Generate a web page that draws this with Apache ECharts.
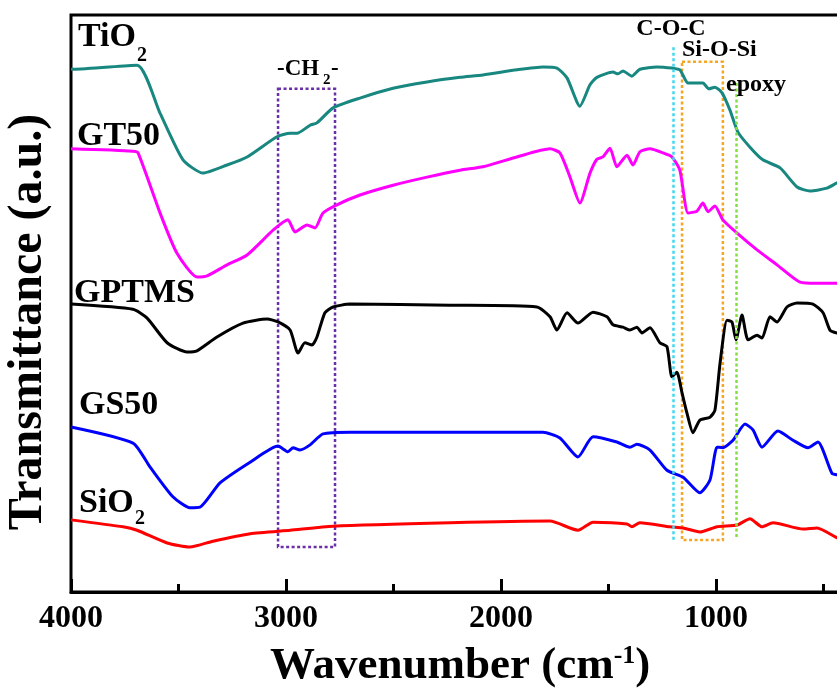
<!DOCTYPE html>
<html>
<head>
<meta charset="utf-8">
<title>FTIR spectra</title>
<script src="https://cdn.jsdelivr.net/npm/echarts@6/dist/echarts.min.js"></script>
<style>
  html, body { margin: 0; background: #fff; }
  #chart { width: 837px; height: 688px; }
</style>
</head>
<body>
<div id="chart"></div>
<script>
// wavenumbers (cm-1) and transmittance (a.u.)
const tio2Wn = [4000, 3991, 3693, 3586, 3479, 3386, 3274, 3181, 3042, 2981, 2949, 2888, 2856, 2781, 2656, 2502, 2344, 2191, 2084, 1926,
  1805, 1740, 1693, 1633, 1586, 1554, 1479, 1456, 1433, 1391, 1354, 1275, 1205, 1168, 1130, 1089, 1061, 1033, 1005, 972,
  935, 898, 842, 782, 702, 623, 563, 484, 437, 400];
const tio2T = [90.6, 90.6, 91.3, 83.0, 74.9, 72.6, 74.0, 75.4, 78.9, 79.5, 79.5, 80.9, 81.3, 83.9, 85.6, 87.3, 88.4, 89.2, 89.6, 90.5,
  91.0, 90.8, 89.1, 84.2, 87.9, 89.2, 90.1, 89.8, 90.3, 89.4, 90.6, 91.0, 90.8, 90.5, 88.2, 88.2, 88.2, 87.2, 87.5, 86.5,
  83.5, 79.7, 77.1, 74.9, 73.5, 70.2, 69.5, 70.0, 70.9, 71.5];

const gt50Wn = [4000, 3712, 3688, 3586, 3507, 3414, 3367, 3274, 3181, 3060, 2991, 2958, 2902, 2865, 2828, 2763, 2656, 2502, 2344, 2191,
  2084, 1926, 1772, 1726, 1679, 1633, 1586, 1554, 1526, 1493, 1461, 1414, 1386, 1354, 1307, 1247, 1205, 1168, 1130, 1089,
  1061, 1037, 1005, 968, 902, 809, 716, 609, 530, 437, 400];
const gt50T = [76.8, 76.4, 76.1, 65.7, 58.7, 54.6, 54.8, 56.7, 58.4, 62.7, 64.5, 62.4, 63.6, 63.1, 65.7, 67.1, 68.8, 70.5, 71.9, 73.1,
  73.7, 75.4, 76.8, 76.1, 71.9, 67.4, 72.6, 75.0, 75.4, 76.9, 73.7, 75.7, 74.0, 76.3, 76.8, 76.1, 75.4, 73.1, 65.7, 66.0,
  67.4, 65.9, 66.9, 64.5, 62.2, 59.3, 56.7, 53.7, 53.5, 53.5, 53.5];

const gptmsWn = [4000, 3712, 3647, 3553, 3460, 3414, 3321, 3200, 3088, 3037, 2981, 2944, 2912, 2879, 2856, 2819, 2781, 2702, 2237, 1833,
  1772, 1740, 1693, 1642, 1572, 1507, 1479, 1433, 1400, 1368, 1344, 1307, 1261, 1228, 1205, 1182, 1158, 1135, 1107, 1075,
  1028, 1005, 981, 949, 926, 907, 879, 851, 809, 786, 749, 716, 670, 623, 549, 502, 470, 437, 400];
const gptmsT = [49.9, 49.0, 47.5, 43.2, 41.6, 41.8, 44.2, 46.6, 47.3, 46.8, 45.4, 41.4, 43.2, 42.8, 44.2, 48.4, 49.4, 49.9, 49.7, 49.4,
  47.7, 45.4, 48.4, 46.6, 48.5, 47.7, 46.3, 45.9, 45.4, 45.9, 44.9, 45.8, 43.2, 42.5, 37.3, 38.1, 34.5, 31.0, 27.6, 29.8,
  30.3, 31.5, 39.7, 47.1, 46.8, 43.7, 48.0, 43.7, 44.5, 44.0, 47.7, 46.8, 49.4, 50.1, 49.9, 48.4, 45.4, 44.9, 44.8];

const gs50Wn = [4000, 3712, 3633, 3526, 3447, 3400, 3307, 3167, 3037, 2991, 2967, 2935, 2888, 2828, 2702, 2237, 1805, 1726, 1642, 1572,
  1461, 1400, 1368, 1307, 1228, 1153, 1075, 1028, 995, 968, 921, 865, 828, 786, 712, 642, 572, 526, 461, 437, 400];
const gs50T = [28.6, 25.8, 21.7, 16.5, 14.6, 14.7, 18.9, 22.5, 25.3, 24.3, 25.0, 24.6, 25.5, 27.4, 27.7, 27.7, 27.7, 26.7, 23.4, 26.9,
  26.0, 25.1, 25.6, 24.6, 21.1, 19.9, 17.2, 19.4, 25.1, 25.0, 26.3, 29.1, 28.1, 25.1, 27.9, 26.3, 25.0, 26.0, 20.6, 20.3, 20.1];

const sio2Wn = [4000, 3758, 3693, 3553, 3447, 3340, 3167, 2981, 2781, 2237, 1772, 1642, 1572, 1414, 1391, 1354, 1214, 1153, 1075, 995,
  902, 842, 786, 735, 595, 530, 437, 400];
const sio2T = [12.5, 11.3, 10.7, 8.5, 7.8, 8.8, 10.1, 10.7, 11.4, 12.0, 12.3, 10.7, 12.1, 11.8, 11.3, 12.0, 11.3, 11.1, 10.4, 11.3,
  11.6, 12.7, 11.3, 12.0, 10.9, 11.1, 9.4, 9.0];

// band markers: [wn from, wn to, T top, T bottom] / [wn, T top, T bottom]
const ch2Box = [3037, 2772, 87.2, 7.8];
const siosiBox = [1158, 968, 91.9, 9.0];
const cocLine = [1200, 94.4, 9.0];
const epoxyLine = [907, 88.2, 9.4];

const xTicks = [0, 4000, 1000]; // min, max, step

const FONT = '"Liberation Serif", "Times New Roman", serif';

function zip(xs, ys) {
    return xs.map((x, i) => [x, ys[i]]);
}

function spectrum(name, wn, t, color) {
    return {
        name: name,
        type: 'line',
        data: zip(wn, t),
        showSymbol: false,
        smooth: 0.2,
        lineStyle: { width: 3, color: color },
        itemStyle: { color: color },
        z: 3
    };
}

function txt(text, x, y, size, align) {
    return {
        type: 'text', x: x, y: y, z: 10,
        style: {
            text: text, fill: '#000',
            font: 'bold ' + size + 'px ' + FONT,
            align: align || 'left', verticalAlign: 'middle'
        }
    };
}

const dots = [3, 2.5];

const chart = echarts.init(document.getElementById('chart'));

const series = [
    spectrum('TiO2', tio2Wn, tio2T, '#17877f'),
    spectrum('GT50', gt50Wn, gt50T, '#ff00ff'),
    spectrum('GPTMS', gptmsWn, gptmsT, '#000000'),
    spectrum('GS50', gs50Wn, gs50T, '#0000ff'),
    spectrum('SiO2', sio2Wn, sio2T, '#ff0000')
];

// dotted band boxes and lines hang off the SiO2 series
series[4].markArea = {
    silent: true,
    z: 1,
    data: [
        [{ coord: [ch2Box[0], ch2Box[2]], itemStyle: { borderColor: '#6a2ea8' } }, { coord: [ch2Box[1], ch2Box[3]] }],
        [{ coord: [siosiBox[0], siosiBox[2]], itemStyle: { borderColor: '#f5a623' } }, { coord: [siosiBox[1], siosiBox[3]] }]
    ],
    itemStyle: { color: 'rgba(0,0,0,0)', borderWidth: 2.5, borderType: dots }
};
series[4].markLine = {
    silent: true,
    symbol: 'none',
    label: { show: false },
    data: [
        [{ coord: [cocLine[0], cocLine[1]], lineStyle: { color: '#3fd8ee' } }, { coord: [cocLine[0], cocLine[2]] }],
        [{ coord: [epoxyLine[0], epoxyLine[1]], lineStyle: { color: '#84e040' } }, { coord: [epoxyLine[0], epoxyLine[2]] }]
    ],
    lineStyle: { width: 2.5, type: dots }
};

chart.setOption({
    animation: false,
    backgroundColor: '#fff',
    grid: {
        left: 71, right: -94, top: 15, bottom: 96,
        outerBoundsMode: 'none',
        containLabel: false,
        show: true, borderColor: '#000', borderWidth: 3
    },
    xAxis: {
        type: 'value',
        min: xTicks[0], max: xTicks[1], interval: xTicks[2],
        inverse: true,
        axisLine: { lineStyle: { color: '#000', width: 3 } },
        axisTick: { inside: true, length: 13, lineStyle: { color: '#000', width: 3 } },
        minorTick: { show: true, splitNumber: 2, length: 8, lineStyle: { color: '#000', width: 3 } },
        axisLabel: {
            margin: 11, color: '#000', fontFamily: FONT, fontWeight: 'bold', fontSize: 32,
            formatter: v => (v === 0 ? '' : String(v))
        },
        splitLine: { show: false }
    },
    yAxis: {
        type: 'value', min: 0, max: 100,
        axisLine: { show: true, lineStyle: { color: '#000', width: 3 } },
        axisTick: { show: false },
        axisLabel: { show: false },
        splitLine: { show: false }
    },
    series: series,
    graphic: [
        // spectrum names
        txt('TiO', 78, 37, 34), txt('2', 137, 56, 20),
        txt('GT50', 77, 136, 34),
        txt('GPTMS', 74, 293, 34),
        txt('GS50', 79, 405, 34),
        txt('SiO', 79, 503, 34), txt('2', 135, 519, 20),
        // band labels
        txt('-CH', 277, 69, 23), txt('2', 323, 80, 15), txt('-', 331, 69, 23),
        txt('C-O-C', 671, 29, 24, 'center'),
        txt('Si-O-Si', 682, 50, 24),
        txt('epoxy', 726, 85, 24),
        // axis titles
        {
            type: 'text', x: 29, y: 322, rotation: Math.PI / 2,
            style: {
                text: 'Transmittance (a.u.)', fill: '#000',
                font: 'bold 48px ' + FONT, align: 'center', verticalAlign: 'middle'
            }
        },
        {
            type: 'text', x: 270, y: 666,
            style: {
                text: '{m|Wavenumber (cm}{s|-1}{m|)}',
                fill: '#000', font: 'bold 45px ' + FONT,
                align: 'left', verticalAlign: 'middle',
                rich: {
                    m: { fontFamily: FONT, fontWeight: 'bold', fontSize: 45, fill: '#000' },
                    s: { fontFamily: FONT, fontWeight: 'bold', fontSize: 26, fill: '#000', verticalAlign: 'top' }
                }
            }
        }
    ]
});
</script>
</body>
</html>
